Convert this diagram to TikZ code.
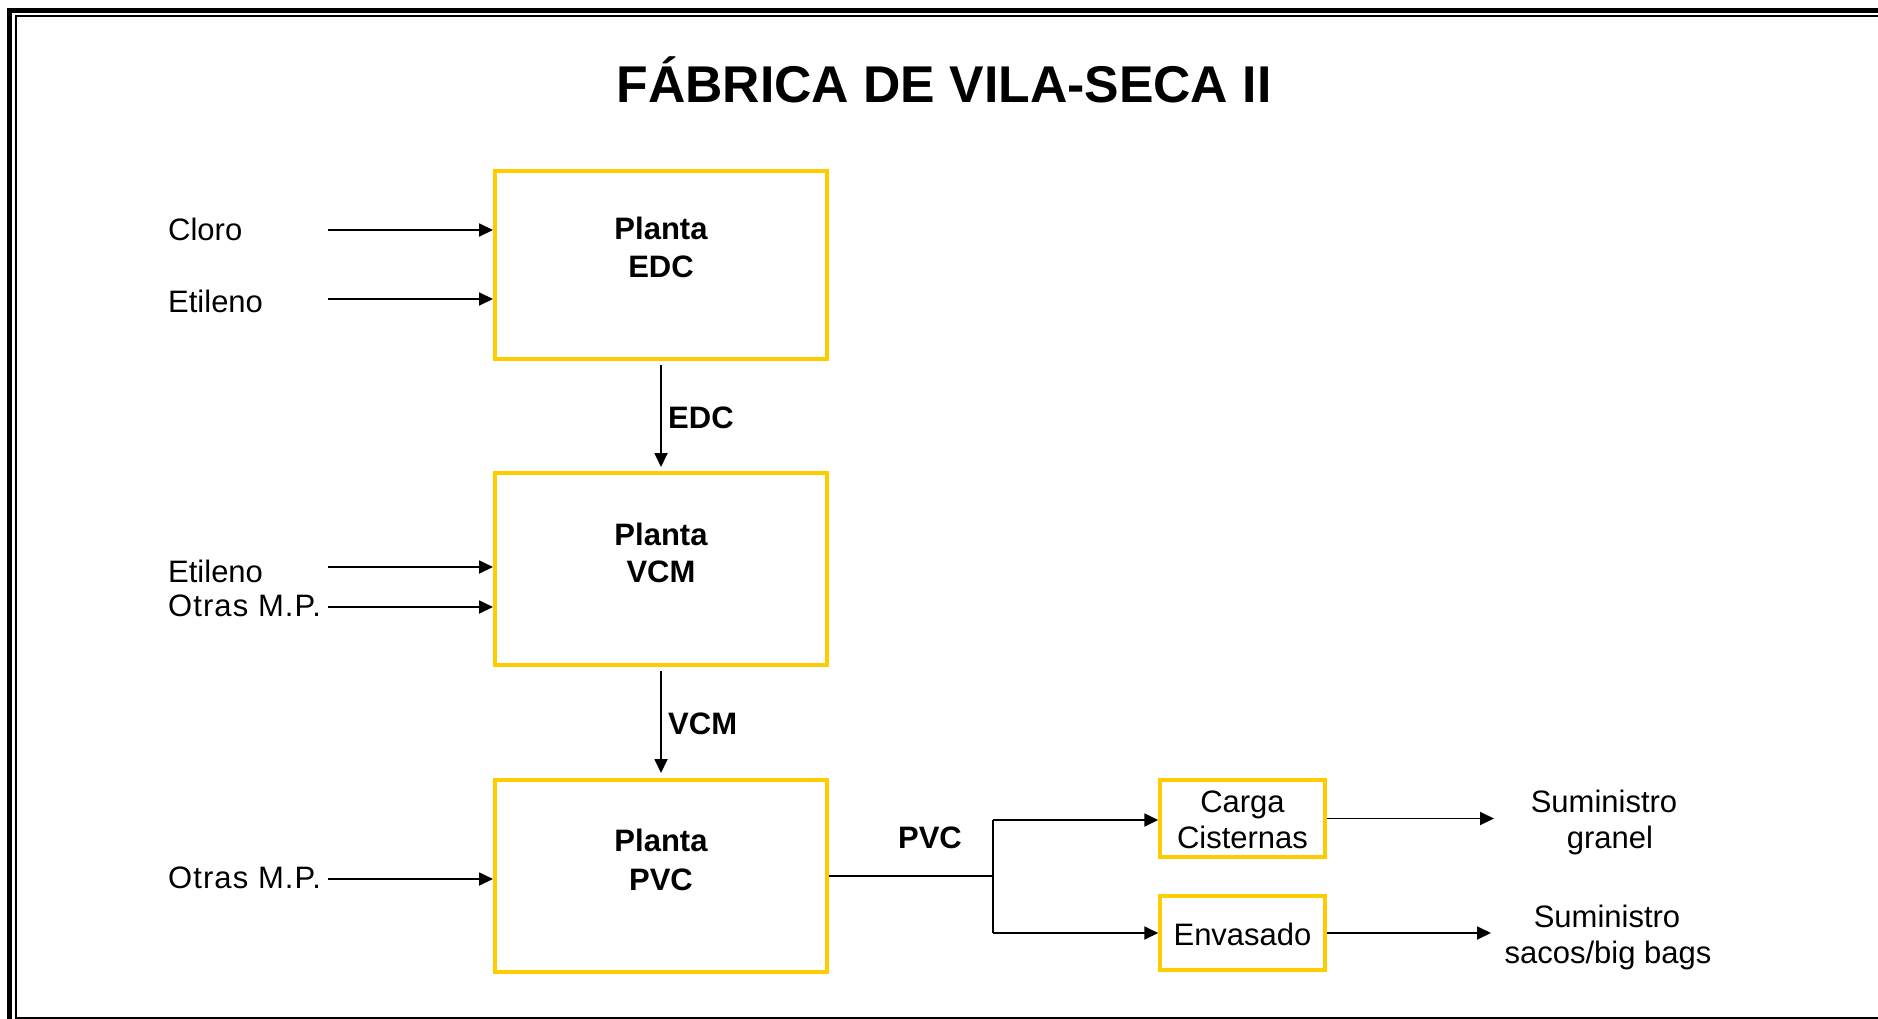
\documentclass[tikz,border=0pt]{standalone}
\usepackage{fontspec}
\setmainfont{Liberation Sans}
\usetikzlibrary{arrows.meta}
\definecolor{boxyellow}{RGB}{255,204,0}
\begin{document}
\begin{tikzpicture}[x=1pt,y=-1pt,
  txt/.style={font=\fontsize{31}{37}\selectfont, inner sep=0pt},
  widetxt/.style={font=\fontsize{31}{37}\selectfont\addfontfeatures{LetterSpace=3.5}, inner sep=0pt},
  btxt/.style={font=\fontsize{31}{37}\selectfont\bfseries, inner sep=0pt},
  plant/.style={draw=boxyellow, line width=4pt, inner sep=0pt},
  smallbox/.style={draw=boxyellow, line width=3.5pt, inner sep=0pt},
  flow/.style={line width=1.8pt, -{Triangle[length=14pt,width=13pt]}},
  plain/.style={line width=1.8pt},
  frame/.style={line width=5.3pt},
  thinframe/.style={line width=2pt}
]
\useasboundingbox (0,0) rectangle (1878,1019);
\clip (0,0) rectangle (1878,1019);
\fill[white] (0,0) rectangle (1878,1019);

% frame
\draw[frame] (9.5,1040) -- (9.5,10.5) -- (1900,10.5);
\draw[thinframe] (1900,16) -- (16,16) -- (16,1018) -- (1900,1018);

% title
\node[inner sep=0pt, anchor=base, font=\fontsize{51.7}{60}\selectfont\bfseries] (title) at (944,103) {FÁBRICA DE VILA-SECA II};

% plant boxes
\node[plant, minimum width=332pt, minimum height=188pt] (edc) at (661,265) {};
\node[plant, minimum width=332pt, minimum height=192pt] (vcm) at (661,569) {};
\node[plant, minimum width=332pt, minimum height=192pt] (pvc) at (661,876) {};

\node[btxt, anchor=base] (edct1) at (661,239) {Planta};
\node[btxt, anchor=base] (edct2) at (661,277) {EDC};
\node[btxt, anchor=base] (vcmt1) at (661,545) {Planta};
\node[btxt, anchor=base] (vcmt2) at (661,582) {VCM};
\node[btxt, anchor=base] (pvct1) at (661,851) {Planta};
\node[btxt, anchor=base] (pvct2) at (661,890) {PVC};

% small boxes
\node[smallbox, minimum width=165pt, minimum height=77pt] (carga) at (1242.5,818.5) {};
\node[txt, anchor=base] (cargat1) at (1242.5,812) {Carga};
\node[txt, anchor=base] (cargat2) at (1242.5,848) {Cisternas};
\node[smallbox, minimum width=165pt, minimum height=74pt] (env) at (1242.5,933) {};
\node[txt, anchor=base] (envt) at (1242.5,945) {Envasado};

% inputs
\node[txt, anchor=base west] (cloro) at (168,240) {Cloro};
\node[txt, anchor=base west] (etil1) at (168,312) {Etileno};
\node[txt, anchor=base west] (etil2) at (168,582) {Etileno};
\node[widetxt, anchor=base west] (otras1) at (168,616) {Otras M.P.};
\node[widetxt, anchor=base west] (otras2) at (168,888) {Otras M.P.};

\coordinate (a1) at (328,230);
\coordinate (a2) at (328,299);
\coordinate (a3) at (328,567);
\coordinate (a4) at (328,607);
\coordinate (a5) at (328,879);
\draw[flow] (a1) -- (a1 -| edc.west);
\draw[flow] (a2) -- (a2 -| edc.west);
\draw[flow] (a3) -- (a3 -| vcm.west);
\draw[flow] (a4) -- (a4 -| vcm.west);
\draw[flow] (a5) -- (a5 -| pvc.west);

% vertical flows
\draw[flow, shorten <=4pt, shorten >=4pt] (edc.south) -- (vcm.north);
\node[btxt, anchor=base west] (edcl) at (668,428) {EDC};
\draw[flow, shorten <=4pt, shorten >=5pt] (vcm.south) -- (pvc.north);
\node[btxt, anchor=base west] (vcml) at (668,734) {VCM};

% PVC distribution
\coordinate (jn) at (993,876);
\coordinate (ju) at (993,820);
\coordinate (jd) at (993,933);
\draw[plain] (pvc.east) -- (jn);
\draw[plain] (ju) -- (jd);
\draw[flow] (ju) -- (ju -| carga.west);
\draw[flow] (jd) -- (jd -| env.west);
\node[btxt, anchor=base] (pvcl) at (930,848) {PVC};

% outputs
\coordinate (s1) at (1494,817);
\coordinate (s2) at (1491,933);
\draw[flow] (carga.east) -- (carga.east -| s1);
\draw[flow] (env.east) -- (env.east -| s2);
\node[txt, anchor=base] (sum1a) at (1604,812) {Suministro};
\node[txt, anchor=base] (sum1b) at (1610,848) {granel};
\node[txt, anchor=base] (sum2a) at (1607,927) {Suministro};
\node[txt, anchor=base] (sum2b) at (1608,963) {sacos/big bags};
\end{tikzpicture}
\end{document}
